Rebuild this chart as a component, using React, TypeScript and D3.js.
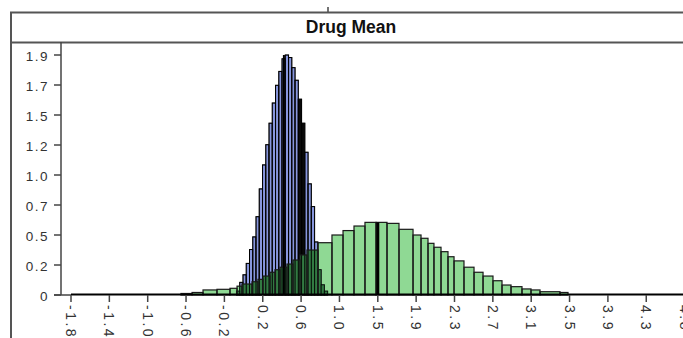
import React from "react";
import * as d3 from "d3";

// Posterior draws of the drug mean: two histograms on a shared axis.
const blueStart = -0.02;
const blueBinWidth = 0.035;
const blueHeights = [
  0.03, 0.1, 0.16, 0.25, 0.36, 0.46, 0.62, 0.84, 1.03, 1.19, 1.36, 1.52, 1.66, 1.77,
  1.87, 1.9, 1.88, 1.8, 1.7, 1.55, 1.36, 1.13, 0.88, 0.7, 0.42, 0.2, 0.08, 0.03,
];
// bins drawn solid dark inside the blue histogram
const blueDarkBins = [19, 20];
const blueMean = 0.49;

const greenEdges = [
  -0.617, -0.498, -0.38, -0.23, -0.09, -0.014, 0.039, 0.147, 0.211, 0.265, 0.34, 0.394,
  0.448, 0.523, 0.588, 0.663, 0.738, 0.857, 1.007, 1.126, 1.244, 1.362, 1.481, 1.599,
  1.728, 1.879, 1.965, 2.04, 2.104, 2.18, 2.255, 2.32, 2.427, 2.535, 2.632, 2.739, 2.836,
  2.933, 3.051, 3.148, 3.245, 3.46, 3.546,
];
const greenHeights = [
  0.012, 0.02, 0.04, 0.045, 0.053, 0.07, 0.087, 0.105, 0.124, 0.15, 0.18, 0.2, 0.22,
  0.245, 0.277, 0.317, 0.356, 0.414, 0.475, 0.51, 0.546, 0.575, 0.575, 0.567, 0.52,
  0.475, 0.449, 0.409, 0.378, 0.343, 0.303, 0.27, 0.22, 0.18, 0.15, 0.113, 0.079, 0.066,
  0.048, 0.04, 0.026, 0.02,
];
const greenMedian = 1.5;

const xTickStart = -1.8;
const xTickStep = 0.4125;
const xTickLabels = [
  "-1.8", "-1.4", "-1.0", "-0.6", "-0.2", "0.2", "0.6", "1.0", "1.5", "1.9", "2.3",
  "2.7", "3.1", "3.5", "3.9", "4.3", "4.8",
];
const yMax = 1.9;
const yTickLabels = ["0", "0.2", "0.5", "0.7", "1.0", "1.2", "1.5", "1.7", "1.9"];

const W = 683;
const H = 338;
const FONT = "'Liberation Sans', Arial, sans-serif";

export default function App() {
  const x = d3
    .scaleLinear()
    .domain([xTickStart, xTickStart + 16 * xTickStep])
    .range([71, 71 + 16 * 38.35]);
  const y = d3.scaleLinear().domain([0, yMax]).range([295, 55]);

  const blue = blueHeights.map((h, i) => ({
    x0: blueStart + i * blueBinWidth,
    x1: blueStart + (i + 1) * blueBinWidth,
    h,
    dark: blueDarkBins.includes(i),
  }));
  const green = greenHeights.map((h, i) => ({ x0: greenEdges[i], x1: greenEdges[i + 1], h }));

  // region where both histograms cover the same area
  const overlap: { x0: number; x1: number; h: number }[] = [];
  green.forEach((g) => {
    blue.forEach((b) => {
      const a = Math.max(g.x0, b.x0);
      const c = Math.min(g.x1, b.x1);
      if (c > a) overlap.push({ x0: a, x1: c, h: Math.min(g.h, b.h) });
    });
  });

  const xTicks = xTickLabels.map((l, i) => ({ v: xTickStart + i * xTickStep, l }));
  const yTicks = yTickLabels.map((l, i) => ({ v: (i * yMax) / 8, l }));

  const rectProps = (d: { x0: number; x1: number; h: number }) => ({
    x: x(d.x0),
    y: y(d.h),
    width: x(d.x1) - x(d.x0),
    height: y(0) - y(d.h),
  });

  return (
    <svg
      width={W}
      height={H}
      style={{ position: "absolute", left: 0, top: 0, background: "#fff" }}
      fontFamily={FONT}
    >
      <rect x={0} y={0} width={W} height={H} fill="#fff" />
      {/* frame and title box */}
      <line x1={328} x2={328} y1={7} y2={12} stroke="#444" strokeWidth={1.5} />
      <line x1={10} x2={W} y1={12.5} y2={12.5} stroke="#555" strokeWidth={2} />
      <line x1={10} x2={W} y1={42.5} y2={42.5} stroke="#555" strokeWidth={2} />
      <line x1={11} x2={11} y1={12} y2={H} stroke="#555" strokeWidth={2} />
      <text x={351} y={33} textAnchor="middle" fontSize={17.5} fontWeight="bold" fill="#111">
        Drug Mean
      </text>

      {/* green histogram fill */}
      {green.map((d, i) => (
        <rect key={`gf${i}`} {...rectProps(d)} fill="#8fd994" />
      ))}
      {/* blue histogram */}
      {blue.map((d, i) => (
        <rect
          key={`b${i}`}
          {...rectProps(d)}
          fill={d.dark ? "#0a0a0a" : "#8796dd"}
          stroke="#000"
          strokeWidth={1}
        />
      ))}
      {/* overlap */}
      {overlap.map((d, i) => (
        <rect key={`o${i}`} {...rectProps(d)} fill="#327a42" />
      ))}
      {blue.map((d, i) => (
        <rect
          key={`bo${i}`}
          {...rectProps(d)}
          fill="none"
          stroke="#000"
          strokeOpacity={0.6}
          strokeWidth={1}
        />
      ))}
      {green.map((d, i) => (
        <rect
          key={`go${i}`}
          {...rectProps(d)}
          fill="none"
          stroke="#1a1a1a"
          strokeWidth={1.2}
        />
      ))}
      <line
        x1={x(blueMean)}
        x2={x(blueMean)}
        y1={y(d3.max(blueHeights) as number)}
        y2={y(0)}
        stroke="#000"
        strokeWidth={2}
      />
      <line
        x1={x(greenMedian)}
        x2={x(greenMedian)}
        y1={y(0.575)}
        y2={y(0)}
        stroke="#000"
        strokeWidth={3}
      />

      {/* axes */}
      <line x1={61} x2={61} y1={42} y2={295} stroke="#444" strokeWidth={1.5} />
      <line x1={54} x2={71} y1={295} y2={295} stroke="#444" strokeWidth={1.5} />
      <line x1={71} x2={W} y1={294.5} y2={294.5} stroke="#000" strokeWidth={2} />
      {yTicks.map((t, i) => (
        <g key={`yt${i}`}>
          <line x1={54} x2={61} y1={y(t.v)} y2={y(t.v)} stroke="#444" strokeWidth={1.5} />
          <text
            x={49}
            y={y(t.v) + 1.5}
            textAnchor="end"
            dominantBaseline="central"
            fontSize={13.5}
            letterSpacing={1.5}
            fill="#333"
          >
            {t.l}
          </text>
        </g>
      ))}
      {xTicks.map((t, i) => (
        <g key={`xt${i}`}>
          <line x1={x(t.v)} x2={x(t.v)} y1={295} y2={302} stroke="#444" strokeWidth={1.5} />
          <text
            transform={`translate(${x(t.v)},305) rotate(90)`}
            dominantBaseline="central"
            fontSize={14}
            letterSpacing={2.5}
            fill="#333"
          >
            {t.l}
          </text>
        </g>
      ))}
    </svg>
  );
}
